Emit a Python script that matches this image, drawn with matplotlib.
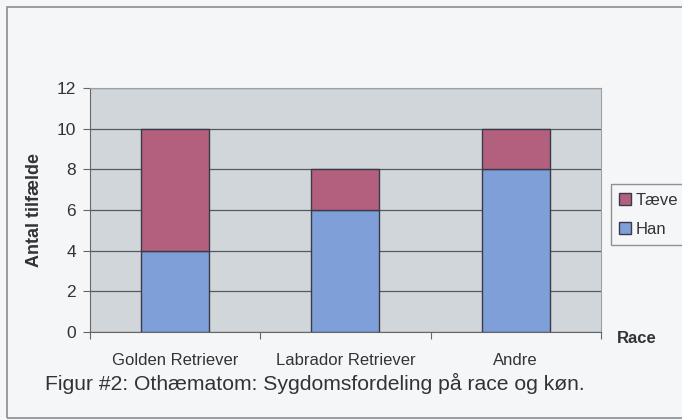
import matplotlib.pyplot as plt
from matplotlib.patches import Rectangle
import numpy as np

plt.rcParams["font.family"] = ["Liberation Sans", "DejaVu Sans"]

races = ["Golden Retriever", "Labrador Retriever", "Andre"]
han = [4, 6, 8]
taeve = [6, 2, 2]
yticks = [0, 2, 4, 6, 8, 10, 12]

TEXT = "#333333"
fig = plt.figure(figsize=(6.82, 4.2), dpi=100, facecolor="#f4f6f8")
ax = fig.add_axes([0.132, 0.2095, 0.749, 0.581])
ax.set_facecolor("#d0d6da")

x = np.arange(len(races))
b_han = ax.bar(x, han, width=0.4, color="#7f9fd9", edgecolor="#3a3a48",
               linewidth=1.0, label="Han", zorder=3)
b_taeve = ax.bar(x, taeve, bottom=han, width=0.4, color="#b3607e",
                 edgecolor="#3a3a48", linewidth=1.0, label="Tæve", zorder=3)

ax.set_xlim(-0.5, 2.5)
ax.set_ylim(0, 12)
ax.set_yticks(yticks)
ax.yaxis.grid(True, color="#555a60", linewidth=0.9, zorder=1)
ax.set_axisbelow(True)

# category separators as tick marks, labels centred under each bar
ax.set_xticks([-0.5, 0.5, 1.5, 2.5])
ax.set_xticklabels([])
ax.set_xticks(x, minor=True)
ax.set_xticklabels(races, minor=True, fontsize=12, color=TEXT)
ax.tick_params(axis="x", which="minor", length=0, pad=15)
ax.tick_params(axis="x", which="major", length=5, color="#666", direction="out")
ax.tick_params(axis="y", length=5, color="#666", labelsize=12.5,
               labelcolor=TEXT, pad=5)

for side in ("top", "right"):
    ax.spines[side].set_color("#9aa0a4")
for side in ("left", "bottom"):
    ax.spines[side].set_color("#666")

ax.set_ylabel("Antal tilfælde", fontsize=13, fontweight="bold",
              color=TEXT, labelpad=10)

fig.text(0.905, 0.195, "Race", fontsize=12, fontweight="bold", color=TEXT,
         ha="left", va="center")

leg = ax.legend([b_taeve, b_han], ["Tæve", "Han"], loc="center left",
                bbox_to_anchor=(1.02, 0.48), fontsize=12, frameon=True,
                fancybox=False, edgecolor="#777", facecolor="#f4f6f8",
                handlelength=0.7, handleheight=0.7, handletextpad=0.3,
                borderpad=0.5, labelspacing=0.85, borderaxespad=0)
for t in leg.get_texts():
    t.set_color(TEXT)

fig.text(0.462, 0.088, "Figur #2: Othæmatom: Sygdomsfordeling på race og køn.",
         fontsize=15.2, color=TEXT, ha="center", va="center")

# outer chart border
fig.add_artist(Rectangle((0.0105, 0.005), 1.2, 0.978, transform=fig.transFigure,
                         fill=False, edgecolor="#8a8e92", linewidth=1.2))

fig.savefig("out.png", dpi=100, facecolor=fig.get_facecolor())
